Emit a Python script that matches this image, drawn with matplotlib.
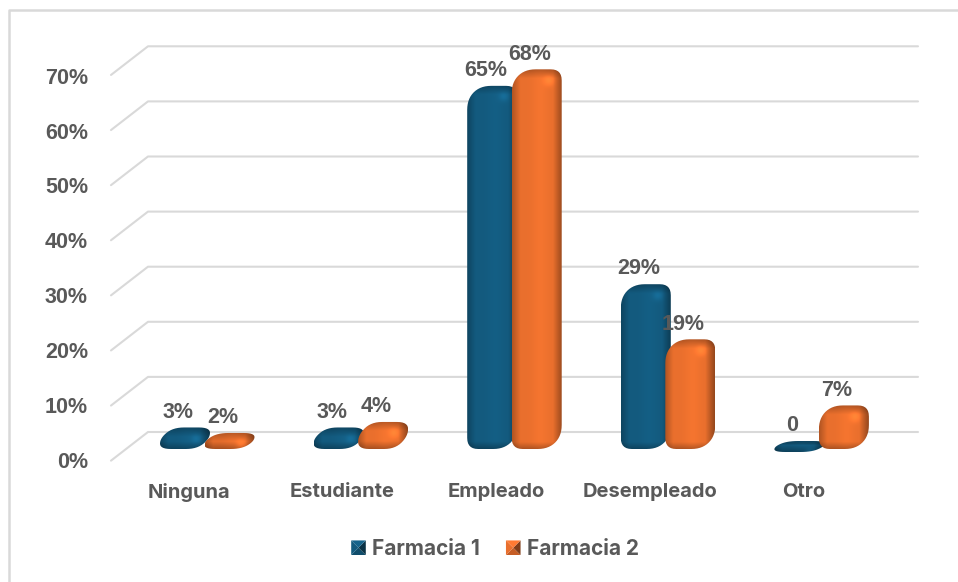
import numpy as np
import matplotlib
matplotlib.use("Agg")
import matplotlib.pyplot as plt
from matplotlib.legend_handler import HandlerBase
from matplotlib.patches import Patch, Polygon

categories = ["Ninguna", "Estudiante", "Empleado", "Desempleado", "Otro"]
farmacia1 = [3, 3, 65, 29, 0]
farmacia2 = [2, 4, 68, 19, 7]
y_ticks = [0, 10, 20, 30, 40, 50, 60, 70]

BLUE = np.array([0x13, 0x5A, 0x7E]) / 255
ORANGE = np.array([0xE9, 0x6F, 0x2D]) / 255
GRID = "#d9d9d9"
TEXT = "#595959"

# one axes over the whole figure: x in category units, y in percent
W, H = 958, 582
PX_X = 153.6   # pixels per category
PX_Y = 5.51    # pixels per percent
X0, Y0 = 207, 432  # pixel of category 0 / of 0% on the back wall

fig = plt.figure(figsize=(W / 100, H / 100), dpi=100)
ax = fig.add_axes([0, 0, 1, 1])
ax.axis("off")
xlim = (-X0 / PX_X, (W - X0) / PX_X)
ylim = ((Y0 - H) / PX_Y, Y0 / PX_Y)


def dx(px):
    return px / PX_X


def dy(px):
    return px / PX_Y


def round_corners(pts, r):
    # pts in pixels, every corner replaced by a small bezier arc
    out = []
    n = len(pts)
    for k in range(n):
        p, prev, nxt = pts[k], pts[k - 1], pts[(k + 1) % n]
        a = p + (prev - p) * min(r / np.linalg.norm(prev - p), 0.5)
        b = p + (nxt - p) * min(r / np.linalg.norm(nxt - p), 0.5)
        for t in np.linspace(0, 1, 8):
            out.append((1 - t) ** 2 * a + 2 * t * (1 - t) * p + t ** 2 * b)
    return np.array(out)


def shaded_bar(xc, value, color, z):
    base_px = 20 if value == 0 else 17
    h_px = max(value * PX_Y + 5, 11)
    w_px = 50
    cut_x = 13
    cut_y = min(13, h_px * 0.5)
    # outline of the box in pixels, relative to bottom left, y going up
    outline = np.array([
        [0, 0], [w_px - cut_x, 0], [w_px, cut_y],
        [w_px, h_px], [cut_x, h_px], [0, h_px - cut_y],
    ], dtype=float)
    outline = round_corners(outline, 11)
    left = xc - dx(w_px / 2)
    base = dy(-base_px)
    top = base + dy(h_px)
    xy = np.column_stack([left + dx(outline[:, 0]), base + dy(outline[:, 1])])
    poly = Polygon(xy, closed=True, fc="none", ec="none", transform=ax.transData, zorder=z)
    ax.add_patch(poly)

    # shading: dark rim on the left, side face on the right, top face on top
    cols = np.arange(w_px * 2) / 2
    rows = np.arange(int(max(h_px, 2)) * 2) / 2
    sx = np.ones_like(cols)
    sx = np.where(cols < 8, 0.76 + 0.24 * cols / 8, sx)
    sx = np.where(cols > w_px - 10, 1.0 - 0.38 * (cols - (w_px - 10)) / 10, sx)
    sx = sx + 0.05 * np.exp(-((cols - w_px * 0.55) / 8) ** 2)
    sy = np.ones_like(rows)
    sy = np.where(rows < 9, 0.74 + 0.26 * rows / 9, sy)
    sy = np.where(rows > h_px - 8, 1.0 - 0.3 * (rows - (h_px - 8)) / 8, sy)
    shade = np.outer(sy, sx)
    xx, yy = np.meshgrid(cols, rows)
    shade = shade + 0.2 * np.exp(-(((xx - (w_px - 14)) / 5) ** 2 + ((yy - 11) / 5) ** 2))
    img = np.clip(shade[..., None] * color, 0, 1)
    im = ax.imshow(img, extent=(left, left + dx(w_px), base, top), origin="upper", aspect="auto",
                   interpolation="bilinear", zorder=z)
    im.set_clip_path(poly)
    return top


class PyramidHandler(HandlerBase):
    # legend swatch with four shaded faces, like the bevelled bars
    def create_artists(self, legend, orig, xd, yd, width, height, fontsize, trans):
        col = np.array(orig.get_facecolor()[:3])
        x0, y0 = -xd, -yd
        s = height
        c = (x0 + s / 2, y0 + s / 2)
        corners = [(x0, y0), (x0 + s, y0), (x0 + s, y0 + s), (x0, y0 + s)]
        factors = [0.85, 0.55, 1.1, 1.0]
        arts = []
        for k in range(4):
            tri = Polygon([corners[k], corners[(k + 1) % 4], c], closed=True,
                          fc=np.clip(col * factors[k], 0, 1), ec="none", transform=trans)
            arts.append(tri)
        return arts


# frame: only the left and top sides are in the picture
ax.plot([dx(9 - X0), dx(9 - X0), xlim[1]], [ylim[0], dy(Y0 - 10), dy(Y0 - 10)],
        color=GRID, lw=1.8, zorder=1)

# gridlines: back wall plus the slanted piece on the floor side
for t in y_ticks:
    xs = [dx(111 - X0), dx(148 - X0), dx(918 - X0)]
    ys = [t - 5.2, t, t]
    ax.plot(xs, ys, color=GRID, lw=1.5, zorder=2, solid_capstyle="round")
    ax.text(dx(88 - X0), t * 0.996 - 5.5, f"{t}%", ha="right", va="center", fontsize=15.5,
            fontweight="bold", family="Liberation Sans", color=TEXT, zorder=6)

for i, name in enumerate(categories):
    ax.text(i - dx(18), dy(Y0 - 492), name, ha="center", va="center", fontsize=14.5,
            fontweight="bold", family="Inter", color=TEXT, zorder=6)

    v1, v2 = farmacia1[i], farmacia2[i]
    for j, (v, col) in enumerate([(v1, BLUE), (v2, ORANGE)]):
        xc = i + dx(-22 if j == 0 else 22.5)
        top = shaded_bar(xc, v, col, 3 + j * 0.5 + i * 0.01)
        label = f"{v}%" if v else "0"
        ax.annotate(label, (xc, top), xytext=(-5, 11), textcoords="offset points",
                    ha="center", va="center", fontsize=15.5, fontweight="bold",
                    family="Liberation Sans", color=TEXT, zorder=7)

handles = [Patch(fc=BLUE), Patch(fc=ORANGE)]
ax.legend(handles, ["Farmacia 1", "Farmacia 2"], ncol=2, frameon=False, loc="center",
          bbox_to_anchor=(495 / W, 1 - 549 / H), handlelength=0.7, handleheight=0.7,
          handletextpad=0.3, columnspacing=1.25,
          handler_map={Patch: PyramidHandler()},
          prop={"family": "Inter", "weight": "bold", "size": 15}, labelcolor=TEXT)

ax.set_xlim(xlim)
ax.set_ylim(ylim)
fig.savefig("out.png", dpi=100)
